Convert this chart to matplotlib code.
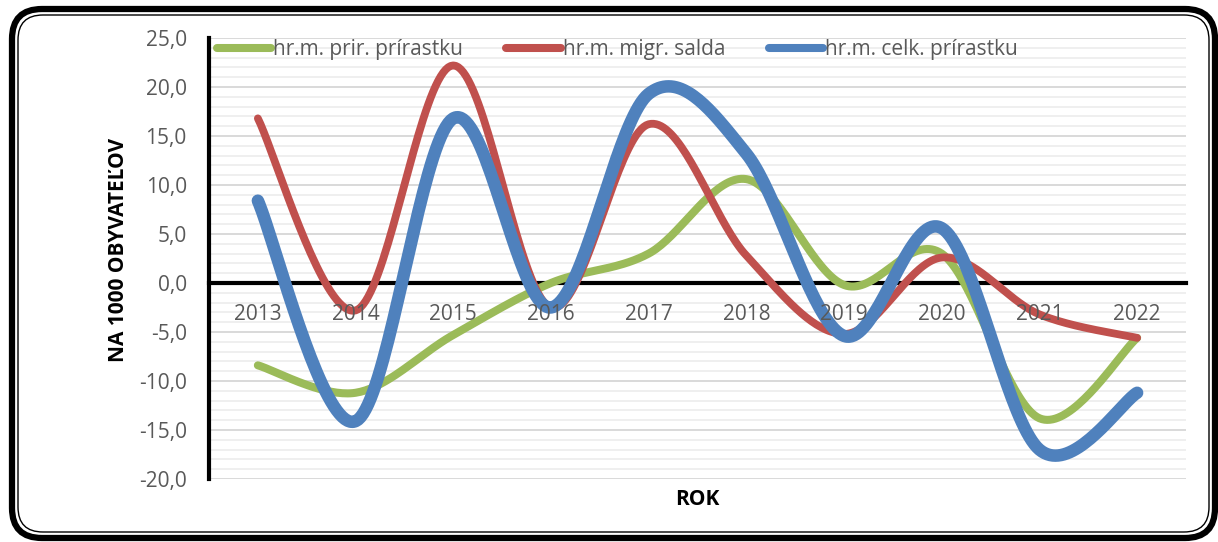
import numpy as np
import matplotlib
matplotlib.use('Agg')
import matplotlib.pyplot as plt
from matplotlib.patches import FancyBboxPatch
from matplotlib.ticker import FuncFormatter, MultipleLocator

# hodnoty odcitane z grafu (na 1000 obyvatelov)
roky = ['2013', '2014', '2015', '2016', '2017', '2018', '2019', '2020', '2021', '2022']
prir = [-8.4, -11.2, -5.3, 0.0, 3.0, 10.6, -0.2, 3.0, -13.8, -5.6]
migr = [16.8, -2.8, 22.2, -2.5, 16.2, 2.8, -5.2, 2.6, -3.2, -5.6]
celk = [8.4, -14.1, 16.8, -2.5, 19.3, 13.2, -5.4, 5.6, -17.0, -11.2]

nazvy = ['hr.m. prir. prírastku', 'hr.m. migr. salda', 'hr.m. celk. prírastku']
farby = ['#9BBB59', '#C0504D', '#4F81BD']
hrubky = [5.8, 5.6, 9.0]

plt.rcParams['font.family'] = ['Open Sans', 'DejaVu Sans']


def smooth(x, y, n=40):
    # vyhladena ciara ako v Exceli (Bezier / Catmull-Rom)
    x = np.asarray(x, float)
    y = np.asarray(y, float)
    px = np.r_[x[0], x, x[-1]]
    py = np.r_[y[0], y, y[-1]]
    xs, ys = [], []
    t = np.linspace(0, 1, n)
    for i in range(1, len(x)):
        p0 = np.array([px[i], py[i]])
        p3 = np.array([px[i + 1], py[i + 1]])
        c1 = p0 + (p3 - np.array([px[i - 1], py[i - 1]])) / 6
        c2 = p3 - (np.array([px[i + 2], py[i + 2]]) - p0) / 6
        b = ((1 - t) ** 3)[:, None] * p0 + (3 * (1 - t) ** 2 * t)[:, None] * c1 \
            + (3 * (1 - t) * t ** 2)[:, None] * c2 + (t ** 3)[:, None] * p3
        xs.append(b[:, 0])
        ys.append(b[:, 1])
    return np.concatenate(xs), np.concatenate(ys)


fig = plt.figure(figsize=(12.18, 5.42), dpi=100)

# ramik okolo grafu
bg = fig.add_axes([0, 0, 1, 1], zorder=-1)
bg.set_xlim(0, 1218)
bg.set_ylim(542, 0)
bg.axis('off')
bg.add_patch(FancyBboxPatch((12, 9), 1203, 529, boxstyle='round,pad=0,rounding_size=30',
                            fc='none', ec='black', lw=4.5))
bg.add_patch(FancyBboxPatch((18, 15), 1191, 517, boxstyle='round,pad=0,rounding_size=25',
                            fc='none', ec='black', lw=1.0))

ax = fig.add_axes([0.1716, 0.1162, 0.8021, 0.8137])
x = np.arange(len(roky))
for data, nazov, farba, lw in zip([prir, migr, celk], nazvy, farby, hrubky):
    sx, sy = smooth(x, data)
    ax.plot(sx, sy, color=farba, lw=lw, solid_capstyle='round', label=nazov, zorder=3)

ax.set_xlim(-0.5, len(roky) - 0.5)
ax.set_ylim(-20, 25)
ax.yaxis.set_major_locator(MultipleLocator(5))
ax.yaxis.set_minor_locator(MultipleLocator(1))
ax.yaxis.set_major_formatter(FuncFormatter(lambda v, p: f'{v:.1f}'.replace('.', ',')))
ax.grid(axis='y', which='major', color='#d9d9d9', lw=1.4, zorder=0)
ax.grid(axis='y', which='minor', color='#efefef', lw=1.4, zorder=0)
ax.set_axisbelow(True)
ax.xaxis.set_zorder(4)  # popisky rokov nad ciarami

ax.set_xticks(x)
ax.set_xticklabels(roky)
ax.spines['bottom'].set_position(('data', 0))
ax.spines['bottom'].set_linewidth(3)
ax.spines['bottom'].set_zorder(2)
ax.spines['left'].set_linewidth(3)
ax.spines['top'].set_visible(False)
ax.spines['right'].set_visible(False)
ax.tick_params(axis='x', length=0, pad=15, labelsize=15, labelcolor='#595959')
ax.tick_params(axis='y', which='both', length=0, pad=16, labelsize=15, labelcolor='#595959')

ax.set_xlabel('ROK', fontsize=15, fontweight='bold')
ax.xaxis.set_label_coords(0.4995, -0.022)
ax.set_ylabel('NA 1000 OBYVATEĽOV', fontsize=15, fontweight='bold')
ax.yaxis.set_label_coords(-0.082, 0.52)

leg = ax.legend(loc='upper left', ncol=3, frameon=False, fontsize=15,
                handlelength=2.6, handletextpad=0.1, columnspacing=2.1,
                bbox_to_anchor=(-0.005, 1.025), borderaxespad=0.2)
for t in leg.get_texts():
    t.set_color('#595959')
for h in leg.get_lines():
    h.set_linewidth(5.8)

fig.savefig('out.png', dpi=100)
